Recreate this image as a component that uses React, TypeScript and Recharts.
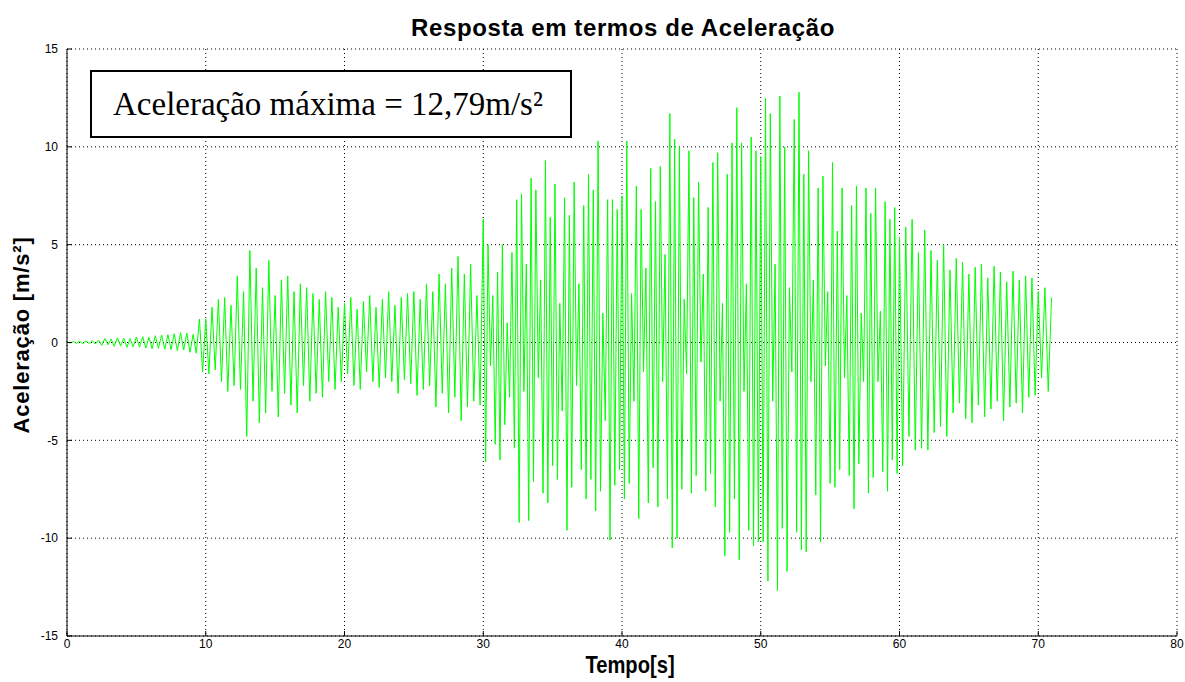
import { LineChart, Line, XAxis, YAxis, CartesianGrid } from 'recharts';

// Alternating peaks/troughs of the acceleration record (m/s²)
const SEG_00_10 = [
  0.02, -0.03, 0.05, -0.04, 0.06, -0.06, 0.08, -0.05, 0.1, -0.08, 0.12,
  -0.15, 0.2, -0.12, 0.18, -0.2, 0.24, -0.18, 0.22, -0.25, 0.2, -0.22,
  0.28, -0.24, 0.3, -0.28, 0.26, -0.32, 0.35, -0.3, 0.38, -0.34, 0.4,
  -0.36, 0.45, -0.42, 0.5, -0.38, 0.48, -0.5, 0.42, -0.55, 1.2, -1.5,
];
const SEG_10_20 = [
  1.2, -1.6, 1.8, -1.4, 2.2, -2.0, 2.3, -2.5, 1.9, -2.2, 3.4,
  -2.4, 2.6, -4.8, 4.7, -3.0, 3.8, -4.1, 2.8, -3.6, 4.2, -2.5,
  2.4, -3.8, 3.2, -2.6, 3.4, -3.2, 2.6, -3.6, 3.0, -2.2, 2.8,
  -3.0, 2.5, -2.6, 2.2, -2.8, 2.6, -2.0, 2.3, -2.4, 1.8, -2.0,
];
const SEG_20_30 = [
  2.0, -1.6, 2.3, -2.2, 1.7, -2.4, 2.1, -1.5, 2.4, -2.0, 1.8,
  -2.3, 2.2, -1.8, 2.6, -2.0, 1.9, -2.6, 2.3, -1.9, 2.5, -2.1,
  2.6, -2.7, 2.2, -2.4, 3.0, -2.2, 2.6, -3.3, 3.5, -2.6, 3.0,
  -3.6, 3.8, -2.8, 4.4, -4.0, 3.5, -3.3, 4.0, -3.0, 2.4, -3.2,
];
const SEG_30_40 = [
  6.3, -6.1, 5.0, -1.2, 2.4, -5.2, 3.6, -6.0, 5.0, -4.2, 1.0, -2.8, 4.6, -5.4, 7.3, -9.2,
  7.6, -2.5, 4.0, -9.1, 8.4, -7.1, 7.8, -1.8, 3.2, -7.7, 9.3, -8.2, 6.4, -6.3,
  8.1, -7.0, 2.0, -3.5, 7.4, -9.6, 6.5, -7.4, 8.2, -2.2, 3.0, -6.5, 7.0, -8.0, 8.6,
  -7.0, 7.8, -8.6, 10.3, -7.6, 1.5, -4.0, 7.3, -10.1, 7.3, -7.3, 6.8, -6.5,
];
const SEG_40_50 = [
  7.5, -8.0, 10.3, -7.2, 2.5, -3.0, 8.0, -9.0, 6.8, -1.5, 3.8, -8.2, 8.9, -6.4, 7.2,
  -8.4, 9.0, -2.0, 4.5, -8.0, 11.7, -10.5, 10.4, -10.0, 10.0, -7.5, 2.2, -1.6, 9.8, -7.7,
  7.4, -6.8, 8.2, -1.0, 3.5, -7.6, 6.9, -6.7, 9.2, -8.4, 9.7, -3.0, 2.0, -10.9, 8.6,
  -9.7, 10.2, -8.0, 12.0, -11.1, 10.2, -2.5, 3.0, -9.6, 10.5, -10.4, 9.8, -10.2,
];
const SEG_50_60 = [
  9.5, -10.2, 12.5, -12.2, 11.7, -3.0, 4.0, -12.7, 12.6, -9.5, 10.0, -11.7, 2.8, -1.5, 11.4,
  -9.7, 12.79, -10.6, 8.6, -10.7, 9.8, -2.0, 3.2, -7.8, 7.9, -10.2, 8.5, -1.2, 2.6, -7.2,
  9.2, -7.4, 5.7, -6.5, 7.9, -1.8, 2.4, -6.8, 7.0, -8.5, 8.0, -6.2, 1.5, -2.0, 7.9,
  -7.7, 6.6, -6.9, 7.9, -2.0, 1.6, -6.6, 7.2, -7.6, 6.3, -6.0, 6.9, -6.7,
];
const SEG_60_70 = [
  5.4, -6.3, 5.9, -4.8, 6.3, -5.5, 4.6, -5.4, 5.75, -5.5, 4.7,
  -4.6, 4.2, -4.3, 5.0, -4.8, 3.7, -3.6, 4.3, -3.1, 4.1, -3.9,
  3.5, -4.1, 3.85, -3.2, 4.0, -3.8, 3.3, -3.4, 3.9, -3.0, 3.6,
  -4.0, 3.1, -3.3, 3.65, -3.1, 3.2, -3.6, 3.4, -2.8, 3.3, -2.7,
];
const SEG_70_END = [2.6, -1.8, 2.8, -2.5, 2.3];

// time window (s) covered by each segment above
const SEG_START = [0, 10, 20, 30, 40, 50, 60, 70];
const SEG_END = [10, 20, 30, 40, 50, 60, 70, 71.2];
const SEGMENTS = [SEG_00_10, SEG_10_20, SEG_20_30, SEG_30_40, SEG_40_50, SEG_50_60, SEG_60_70, SEG_70_END];

const X_TICKS = [0, 10, 20, 30, 40, 50, 60, 70, 80];
const Y_TICKS = [-15, -10, -5, 0, 5, 10, 15];

const data = SEGMENTS.flatMap((vals, s) =>
  vals.map((a, i) => ({ t: SEG_START[s] + (i * (SEG_END[s] - SEG_START[s])) / vals.length, a }))
);

const FONT = '"Liberation Sans", Arial, sans-serif';
const tickStyle = { fill: '#000', fontSize: 12, fontFamily: FONT };

export default function App() {
  return (
    <div style={{ position: 'relative', width: 1185, height: 682, background: '#fff' }}>
      <style>{'body{margin:0}'}</style>
      <LineChart width={1185} height={682} data={data} margin={{ top: 49, right: 8, left: 17, bottom: 16 }}>
        <CartesianGrid stroke="#000" strokeDasharray="1 3" />
        <XAxis dataKey="t" type="number" domain={[0, 80]} ticks={X_TICKS} height={30}
          stroke="#000" tick={tickStyle} tickSize={-5} tickMargin={8} interval={0} />
        <XAxis xAxisId="top" orientation="top" type="number" domain={[0, 80]} ticks={X_TICKS} height={0}
          stroke="#000" tickSize={-5} tickFormatter={() => ''} interval={0} />
        <YAxis type="number" domain={[-15, 15]} ticks={Y_TICKS} width={50}
          stroke="#000" tick={tickStyle} tickSize={-5} tickMargin={14} interval={0} />
        <YAxis yAxisId="right" orientation="right" type="number" domain={[-15, 15]} ticks={Y_TICKS} width={0}
          stroke="#000" tickSize={-5} tickFormatter={() => ''} interval={0} />
        <Line dataKey="a" type="linear" stroke="#00ff00" strokeWidth={1} dot={false} isAnimationActive={false} />
      </LineChart>

      <div style={{ position: 'absolute', left: 623, top: 28, transform: 'translate(-50%,-50%)', font: `bold 24px ${FONT}`, letterSpacing: 0.6, whiteSpace: 'nowrap' }}>
        Resposta em termos de Aceleração
      </div>
      <div style={{ position: 'absolute', left: 630, top: 665, transform: 'translate(-50%,-50%) scaleX(0.84)', font: `bold 24px ${FONT}`, whiteSpace: 'nowrap' }}>
        Tempo[s]
      </div>
      <div style={{ position: 'absolute', left: 22, top: 335, transform: 'translate(-50%,-50%) rotate(-90deg)', font: `bold 22px ${FONT}`, letterSpacing: 0.8, whiteSpace: 'nowrap' }}>
        Aceleração [m/s²]
      </div>
      <div style={{ position: 'absolute', left: 90, top: 70, width: 478, height: 64, border: '2px solid #000', background: '#fff',
        boxSizing: 'content-box', display: 'flex', alignItems: 'center' }}>
        <span style={{ marginLeft: 21, font: '33px "Liberation Serif", "Times New Roman", serif', whiteSpace: 'nowrap' }}>
          Aceleração máxima = 12,79m/s²
        </span>
      </div>
    </div>
  );
}
